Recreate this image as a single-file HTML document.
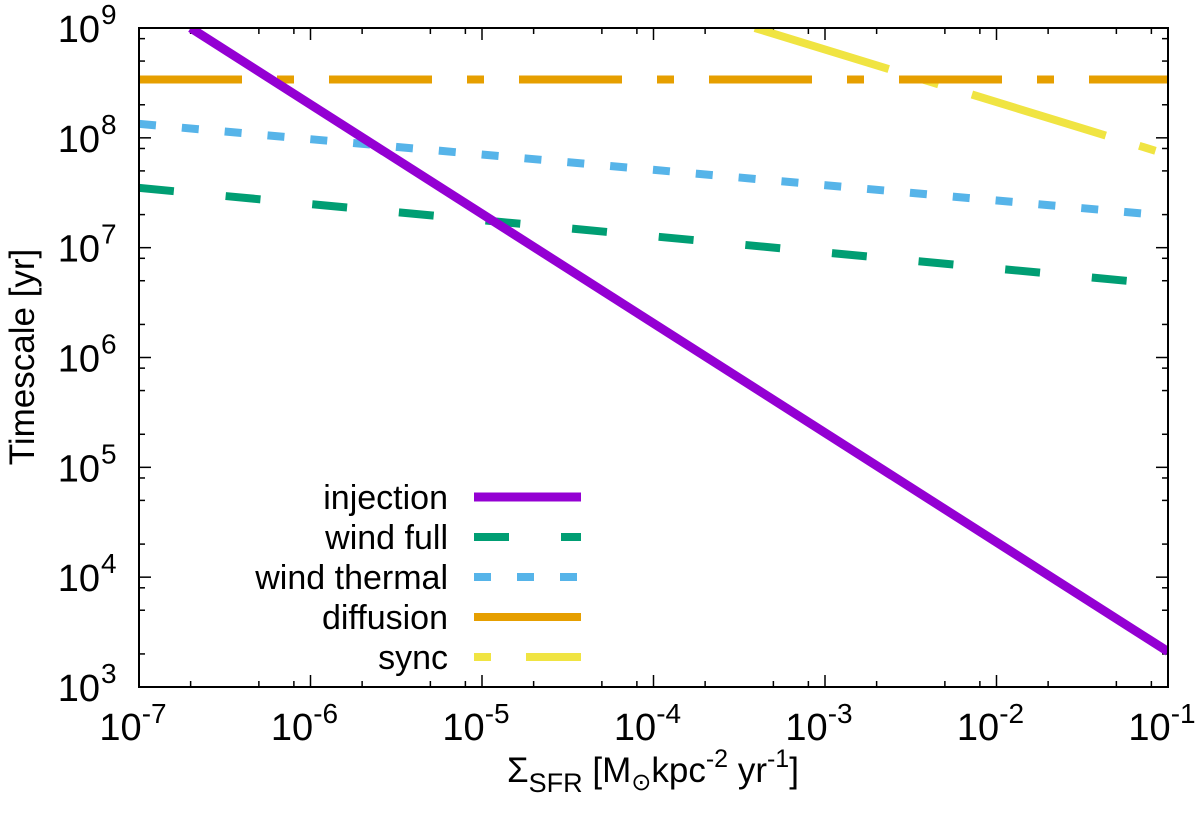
<!DOCTYPE html>
<html><head><meta charset="utf-8"><style>
body{margin:0;background:#fff}
svg{display:block;font-family:"Liberation Sans",sans-serif}
</style></head><body>
<svg id="chart" width="1200" height="818" viewBox="0 0 1200 818"></svg>
<script>
const xTickExps=[-7,-6,-5,-4,-3,-2,-1];
const yTickExps=[3,4,5,6,7,8,9];
const injectionX=[2e-7,0.1];
const injectionY=[1e9,2.1e3];
const windFullX=[1e-7,0.1];
const windFullY=[3.5e7,4.6e6];
const windThermalX=[1e-7,0.1];
const windThermalY=[1.34e8,1.95e7];
const diffusionX=[1e-7,0.1];
const diffusionY=[3.4e8,3.4e8];
const syncX=[3.9e-4,0.09];
const syncY=[1e9,7.4e7];

const L=139,R=1168,T=28,B=687;
const sx=v=>L+(Math.log10(v)+7)/6*(R-L);
const sy=v=>B-(Math.log10(v)-3)/6*(B-T);
const svg=document.getElementById('chart');
const NS='http://www.w3.org/2000/svg';
function mk(tag,attrs,parent){const e=document.createElementNS(NS,tag);for(const k in attrs)e.setAttribute(k,attrs[k]);(parent||svg).appendChild(e);return e;}

const clip=mk('clipPath',{id:'pc'});mk('rect',{x:L,y:T,width:R-L,height:B-T},clip);

const ticks=mk('g',{stroke:'#000','stroke-width':1.5});


xTickExps.forEach((e,i)=>{
  const x=sx(Math.pow(10,e));
  mk('line',{x1:x,y1:B,x2:x,y2:B-12},ticks);mk('line',{x1:x,y1:T,x2:x,y2:T+12},ticks);
  if(i<xTickExps.length-1)[2,5,8].forEach(m=>{const xm=sx(m*Math.pow(10,e));mk('line',{x1:xm,y1:B,x2:xm,y2:B-6},ticks);mk('line',{x1:xm,y1:T,x2:xm,y2:T+6},ticks);});
  const t=mk('text',{x:x-6,y:740,'font-size':38,'text-anchor':'middle'});
  
  
  t.innerHTML='10<tspan dy="-17" font-size="28">'+e+'</tspan>';
});
yTickExps.forEach((e,i)=>{
  const y=sy(Math.pow(10,e));
  mk('line',{x1:L,y1:y,x2:L+12,y2:y},ticks);mk('line',{x1:R,y1:y,x2:R-12,y2:y},ticks);
  if(i<yTickExps.length-1)[2,5,8].forEach(m=>{const ym=sy(m*Math.pow(10,e));mk('line',{x1:L,y1:ym,x2:L+6,y2:ym},ticks);mk('line',{x1:R,y1:ym,x2:R-6,y2:ym},ticks);});
  const t=mk('text',{x:100,y:y+14,'font-size':38,'text-anchor':'end'});
  
  
  t.textContent='10';
  const s=mk('text',{x:101,y:y-4,'font-size':28});
  
  
  s.textContent=e;
});

const series=[
 {name:'injection',x:injectionX,y:injectionY,c:'#9400d3',w:9,d:''},
 {name:'wind full',x:windFullX,y:windFullY,c:'#009e73',w:8,d:'35 52'},
 {name:'wind thermal',x:windThermalX,y:windThermalY,c:'#56b4e9',w:8,d:'17 26'},
 {name:'diffusion',x:diffusionX,y:diffusionY,c:'#e69f00',w:8,d:'103 35 17 35'},
 {name:'sync',x:syncX,y:syncY,c:'#f0e442',w:8,d:'140 35 17 35'}
];
const legD=['','35 52','17 26','','17 35 103 35'];
series.slice().reverse().forEach(s=>{
  const p=mk('polyline',{points:s.x.map((v,i)=>sx(v)+','+sy(s.y[i])).join(' '),fill:'none',stroke:s.c,'stroke-width':s.w,'clip-path':'url(#pc)'});
  if(s.d)p.setAttribute('stroke-dasharray',s.d);
  
  
});
series.forEach((s,i)=>{
  const y=497+i*40;
  const t=mk('text',{x:448,y:y+12,'font-size':34,'text-anchor':'end'});
  
  
  t.textContent=s.name;
  const l=mk('line',{x1:474,y1:y,x2:581,y2:y,stroke:s.c,'stroke-width':s.w});
  if(legD[i])l.setAttribute('stroke-dasharray',legD[i]);
  
  
});
const frame=mk('rect',{x:L,y:T,width:R-L,height:B-T,fill:'none',stroke:'#000','stroke-width':2});


const yt=mk('text',{x:0,y:0,'font-size':35,'text-anchor':'middle',transform:'translate(34,357) rotate(-90)'});


yt.textContent='Timescale [yr]';
const xt=mk('text',{x:653,y:782,'font-size':35,'text-anchor':'middle'});


xt.innerHTML='Σ<tspan dy="10" font-size="27">SFR</tspan><tspan dy="-10"> [M</tspan><tspan dy="8" font-size="24">⊙</tspan><tspan dy="-8">kpc</tspan><tspan dy="-15" font-size="25">-2</tspan><tspan dy="15"> yr</tspan><tspan dy="-15" font-size="25">-1</tspan><tspan dy="15">]</tspan>';
</script>
</body></html>
